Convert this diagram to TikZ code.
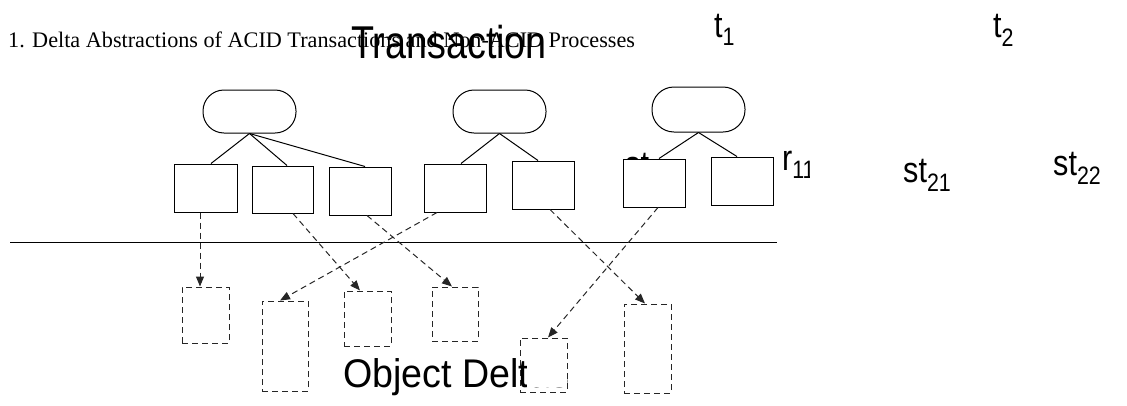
\documentclass[tikz,border=0pt]{standalone}
\usepackage{fontspec}
\usepackage{graphicx}
\setmainfont{Liberation Serif}
\newfontfamily\arialf{Liberation Sans}
\usetikzlibrary{arrows.meta}
\newcommand{\narrowtxt}[1]{\scalebox{0.85}[1]{#1}}
\tikzset{
  txtbox/.style={draw=black, line width=1pt, fill=white, inner sep=0pt},
  roundbox/.style={draw=black, line width=1pt, fill=white, rounded corners=21pt, inner sep=0pt, minimum width=93pt, minimum height=43pt},
  dbox/.style={draw=black!85, line width=1pt, fill=white, dash pattern=on 6pt off 4pt, inner sep=0pt},
  tree/.style={draw=black, line width=1pt},
  darrow/.style={draw=black!85, line width=1pt, dash pattern=on 6pt off 4pt, -{Triangle[length=10pt,width=8pt]}},
  big/.style={inner sep=0pt, anchor=base west, font=\arialf\fontsize{36}{36}\selectfont},
}
\begin{document}
\begin{tikzpicture}[x=1pt,y=-1pt]
\useasboundingbox (0,0) rectangle (1127,405);
% captions
\node[inner sep=0pt, anchor=base west, font=\fontsize{22.2}{24}\selectfont] (cap) at (8,47) {1. Delta Abstractions of ACID Transactions and Non-ACID Processes};
\node[inner sep=0pt, anchor=base west, font=\arialf\fontsize{46}{46}\selectfont] (ttl) at (351,58) {\scalebox{0.82}[1]{Transaction}};
\node[big] (t1) at (714,37) {\narrowtxt{t\textsubscript{1}}};
\node[big] (t2) at (993,37) {\narrowtxt{t\textsubscript{2}}};
\begin{scope}
\clip (0,0) rectangle (809,405);
\node[big] (r11) at (782,170) {\narrowtxt{r\textsubscript{11}}};
\end{scope}
\node[big] (st21) at (903,182) {\narrowtxt{st\textsubscript{21}}};
\node[big] (st22) at (1053,175) {\narrowtxt{st\textsubscript{22}}};
\node[big] (st11) at (625,176) {\narrowtxt{st\textsubscript{11}}};
\node[inner sep=0pt, anchor=base west, font=\arialf\fontsize{40}{40}\selectfont] (od) at (343,387) {\scalebox{0.94}[1]{Object Deltas}};
% divider
\coordinate (l1) at (10,242);
\coordinate (l2) at (777,242);
\draw[line width=1pt] (l1) -- (l2);
% transactions
\node[roundbox] (e1) at (249.5,111.5) {};
\node[roundbox] (e2) at (499.5,111.5) {};
\node[roundbox, minimum height=45pt, rounded corners=22pt] (e3) at (698.5,109.5) {};
\node[txtbox, minimum width=63pt, minimum height=48pt] (b1) at (205.5,188) {};
\node[txtbox, minimum width=61pt, minimum height=47pt] (b2) at (282.5,189.5) {};
\node[txtbox, minimum width=62pt, minimum height=48pt] (b3) at (360,191) {};
\node[txtbox, minimum width=62pt, minimum height=48pt] (b4) at (455,188) {};
\node[txtbox, minimum width=62pt, minimum height=48pt] (b5) at (543,185) {};
\node[txtbox, minimum width=62pt, minimum height=48pt] (b6) at (654,183) {};
\node[txtbox, minimum width=62pt, minimum height=48pt] (b7) at (742,181) {};
\draw[tree] (e1.south) -- ([xshift=5.5pt]b1.north);
\draw[tree] (e1.south) -- ([xshift=4.5pt]b2.north);
\draw[tree] (e1.south) -- ([xshift=5pt]b3.north);
\draw[tree] (e2.south) -- ([xshift=6pt]b4.north);
\draw[tree] (e2.south) -- ([xshift=-5pt]b5.north);
\draw[tree] (e3.south) -- ([xshift=5pt]b6.north);
\draw[tree] (e3.south) -- ([xshift=-5pt]b7.north);
% object deltas
\node[dbox, minimum width=47pt, minimum height=56pt] (d1) at (205.5,315) {};
\node[dbox, minimum width=46pt, minimum height=90pt] (d2) at (285,346) {};
\node[dbox, minimum width=47pt, minimum height=55pt] (d3) at (367.5,318.5) {};
\node[dbox, minimum width=46pt, minimum height=54pt] (d4) at (455,314) {};
\fill[white] (527,338) rectangle (567,387);
\node[dbox, fill=none, minimum width=47pt, minimum height=54pt] (d5) at (543.5,365) {};
\node[dbox, minimum width=47pt, minimum height=89pt] (d6) at (647.5,348.5) {};
\draw[darrow] ([xshift=-5.5pt]b1.south) -- ([xshift=-5.5pt]d1.north);
\draw[darrow] ([xshift=10.5pt]b2.south) -- ([xshift=-7.5pt]d3.north);
\draw[darrow] ([xshift=7pt]b3.south) -- ([xshift=-3pt]d4.north);
\draw[darrow] ([xshift=-18pt]b4.south) -- ([xshift=-5pt]d2.north);
\draw[darrow] ([xshift=7pt]b5.south) -- ([xshift=-2.5pt]d6.north);
\draw[darrow] ([xshift=4pt]b6.south) -- ([xshift=4.5pt]d5.north);
\end{tikzpicture}
\end{document}
